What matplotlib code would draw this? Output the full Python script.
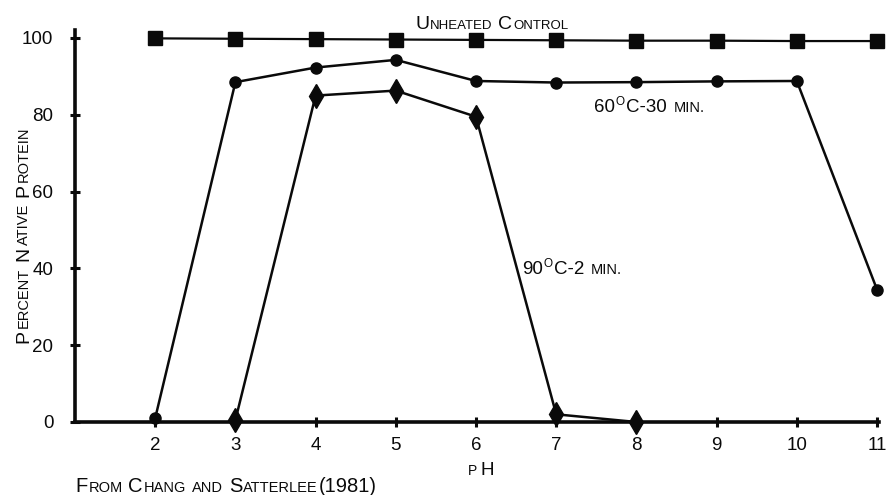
import matplotlib
matplotlib.use("Agg")
import matplotlib.pyplot as plt
from matplotlib.transforms import IdentityTransform

FONT = ["Liberation Sans", "DejaVu Sans"]
plt.rcParams["font.family"] = FONT

# pH values and percent native protein for each treatment
ph_control = [2, 3, 4, 5, 6, 7, 8, 9, 10, 11]
pct_control = [99.9, 99.8, 99.7, 99.6, 99.5, 99.4, 99.3, 99.3, 99.2, 99.2]

ph_60 = [2, 3, 4, 5, 6, 7, 8, 9, 10, 11]
pct_60 = [1.0, 88.5, 92.3, 94.3, 88.8, 88.4, 88.5, 88.7, 88.8, 34.5]

ph_90 = [3, 4, 5, 6, 7, 8]
pct_90 = [0.5, 85.0, 86.3, 79.5, 2.0, 0.0]

x_ticks = [2, 3, 4, 5, 6, 7, 8, 9, 10, 11]
y_ticks = [0, 20, 40, 60, 80, 100]

INK = "#0a0a0a"

fig = plt.figure(figsize=(8.89, 4.95), dpi=100)
ax = fig.add_axes([75 / 889, 73 / 495, 804.4 / 889, 391.7 / 495])
ax.set_xlim(1, 11.03)
ax.set_ylim(0, 102)

for side in ("top", "right"):
    ax.spines[side].set_visible(False)
for side in ("left", "bottom"):
    ax.spines[side].set_linewidth(2.6)
    ax.spines[side].set_color(INK)

ax.set_xticks(x_ticks)
ax.set_yticks(y_ticks)
ax.tick_params(axis="both", direction="inout", length=7, width=2.2,
               color=INK, labelcolor=INK, labelsize=13.5)
ax.tick_params(axis="x", pad=7)
ax.tick_params(axis="y", pad=12)

ax.plot(ph_control, pct_control, "-s", color=INK, lw=1.6, ms=10, clip_on=False, zorder=3)
ax.plot(ph_60, pct_60, "-o", color=INK, lw=1.8, ms=8, clip_on=False, zorder=3)
ax.plot(ph_90, pct_90, "-d", color=INK, lw=1.8, ms=12, clip_on=False, zorder=3)

renderer = fig.canvas.get_renderer()


def caps_text(x, y, pieces, transform, rotation=0, gap=1.0):
    """Draw a run of text pieces (string, size, rise) side by side on a common baseline."""
    cx, cy = transform.transform((x, y))
    for s, size, rise in pieces:
        if s.strip() == "":
            adv = size * 100 / 72 * 0.33 * len(s)
            if rotation:
                cy += adv
            else:
                cx += adv
            continue
        probe = fig.text(0, 0, s, fontsize=size, family=FONT)
        w = probe.get_window_extent(renderer).width + gap
        probe.remove()
        if rotation:
            fig.text(cx - rise, cy, s, fontsize=size, family=FONT, color=INK,
                     rotation=90, rotation_mode="anchor", ha="left", va="baseline",
                     transform=IdentityTransform())
            cy += w
        else:
            fig.text(cx, cy + rise, s, fontsize=size, family=FONT, color=INK,
                     ha="left", va="baseline", transform=IdentityTransform())
            cx += w


def small_caps(text, big, small):
    pieces = []
    for i, word in enumerate(text.split(" ")):
        if i:
            pieces.append((" ", small, 0))
        if word[0].isalpha():
            pieces.append((word[0], big, 0))
            if word[1:]:
                pieces.append((word[1:].upper(), small, 0))
        else:
            pieces.append((word, big, 0))
    return pieces


caps_text(5.24, 102.3, small_caps("Unheated Control", 14, 9.5), ax.transData)

caps_text(7.47, 80.7,
          [("60", 13.5, 0), ("O", 8.5, 7), ("C-30", 13.5, 0), (" ", 13, 0), ("MIN.", 10.5, 0)],
          ax.transData)

caps_text(6.57, 38.5,
          [("90", 13.5, 0), ("O", 8.5, 7), ("C-2", 13.5, 0), (" ", 13, 0), ("MIN.", 10.5, 0)],
          ax.transData)

caps_text(468, 495 - 475, [("P", 10, 0), (" ", 5, 0), ("H", 13.5, 0)], IdentityTransform())

caps_text(28, 495 - 343, small_caps("Percent Native Protein", 14, 10.5),
          IdentityTransform(), rotation=90, gap=2.0)

caps_text(75, 495 - 492,
          [("F", 14.5, 0), ("ROM", 10.5, 0), (" ", 10.5, 0), ("C", 14.5, 0), ("HANG", 10.5, 0),
           (" ", 10.5, 0), ("AND", 10.5, 0), (" ", 10.5, 0), ("S", 14.5, 0),
           ("ATTERLEE", 10.5, 0), ("(1981)", 14.5, 0)],
          IdentityTransform())

fig.savefig("out.png", dpi=100)
